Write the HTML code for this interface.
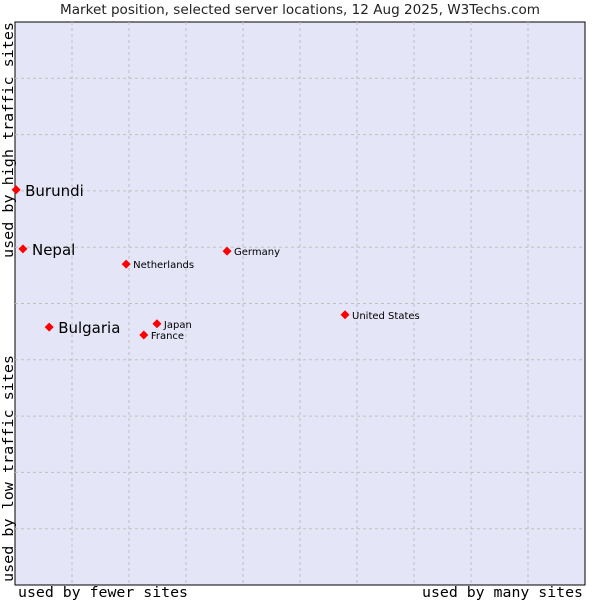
<!DOCTYPE html>
<html><head><meta charset="utf-8"><style>
body{margin:0;background:#fff;width:600px;height:600px;overflow:hidden}
</style></head><body>
<svg id="chart" width="600" height="600" xmlns="http://www.w3.org/2000/svg">
<text x="60" y="14" textLength="480" lengthAdjust="spacingAndGlyphs" font-family="DejaVu Sans, sans-serif" font-size="13" fill="#222">Market position, selected server locations, 12 Aug 2025, W3Techs.com</text>
<rect x="15" y="22" width="570" height="563" fill="#e4e5f7" stroke="#000" stroke-width="1"/>
<g id="grid"></g>
<g id="points"></g>
<text x="18" y="597" textLength="170" lengthAdjust="spacingAndGlyphs" font-family="DejaVu Sans Mono, monospace" font-size="14" fill="#000">used by fewer sites</text>
<text x="422" y="597" textLength="161" lengthAdjust="spacingAndGlyphs" font-family="DejaVu Sans Mono, monospace" font-size="14" fill="#000">used by many sites</text>
<text transform="translate(13,258) rotate(-90)" textLength="236" lengthAdjust="spacingAndGlyphs" font-family="DejaVu Sans Mono, monospace" font-size="14" fill="#000">used by high traffic sites</text>
<text transform="translate(13,582) rotate(-90)" textLength="227" lengthAdjust="spacingAndGlyphs" font-family="DejaVu Sans Mono, monospace" font-size="14" fill="#000">used by low traffic sites</text>
</svg>
<script>
const names = ["Burundi","Nepal","Bulgaria","Netherlands","Germany","Japan","France","United States"];
const xValues = [0.2,1.4,6.0,19.5,37.2,24.9,22.6,57.9];
const yValues = [70.2,59.7,45.8,57.0,59.3,46.4,44.4,48.0];
const bigLabel = [true,true,true,false,false,false,false,false];
const NS="http://www.w3.org/2000/svg";
const X0=15,X1=585,Y0=585,Y1=22;
function sx(v){return X0+(X1-X0)*v/100;}
function sy(v){return Y0-(Y0-Y1)*v/100;}
const grid=document.getElementById('grid');
for(let i=1;i<10;i++){
  const v=document.createElementNS(NS,'line');
  
  
  v.setAttribute('x1',sx(i*10));v.setAttribute('x2',sx(i*10));v.setAttribute('y1',Y1);v.setAttribute('y2',Y0);
  v.setAttribute('stroke','#c0c0c0');v.setAttribute('stroke-dasharray','3,3');
  grid.appendChild(v);
  const h=document.createElementNS(NS,'line');
  
  
  h.setAttribute('y1',sy(i*10));h.setAttribute('y2',sy(i*10));h.setAttribute('x1',X0);h.setAttribute('x2',X1);
  h.setAttribute('stroke','#c0c0c0');h.setAttribute('stroke-dasharray','3,3');
  grid.appendChild(h);
}
const pts=document.getElementById('points');
names.forEach((n,i)=>{
  const x=sx(xValues[i]),y=sy(yValues[i]);
  const d=document.createElementNS(NS,'path');
  
  
  d.setAttribute('d',`M${x-4.5},${y} L${x},${y-4.5} L${x+4.5},${y} L${x},${y+4.5}Z`);
  d.setAttribute('fill','#f00');
  pts.appendChild(d);
  const t=document.createElementNS(NS,'text');
  
  
  t.setAttribute('font-family','DejaVu Sans, sans-serif');
  if(bigLabel[i]){t.setAttribute('font-size','15');t.setAttribute('x',x+9);t.setAttribute('y',y+6);}
  else{t.setAttribute('font-size','10');t.setAttribute('x',x+7);t.setAttribute('y',y+4);}
  t.setAttribute('fill','#000');
  t.textContent=n;
  pts.appendChild(t);
});
</script>
</body></html>
